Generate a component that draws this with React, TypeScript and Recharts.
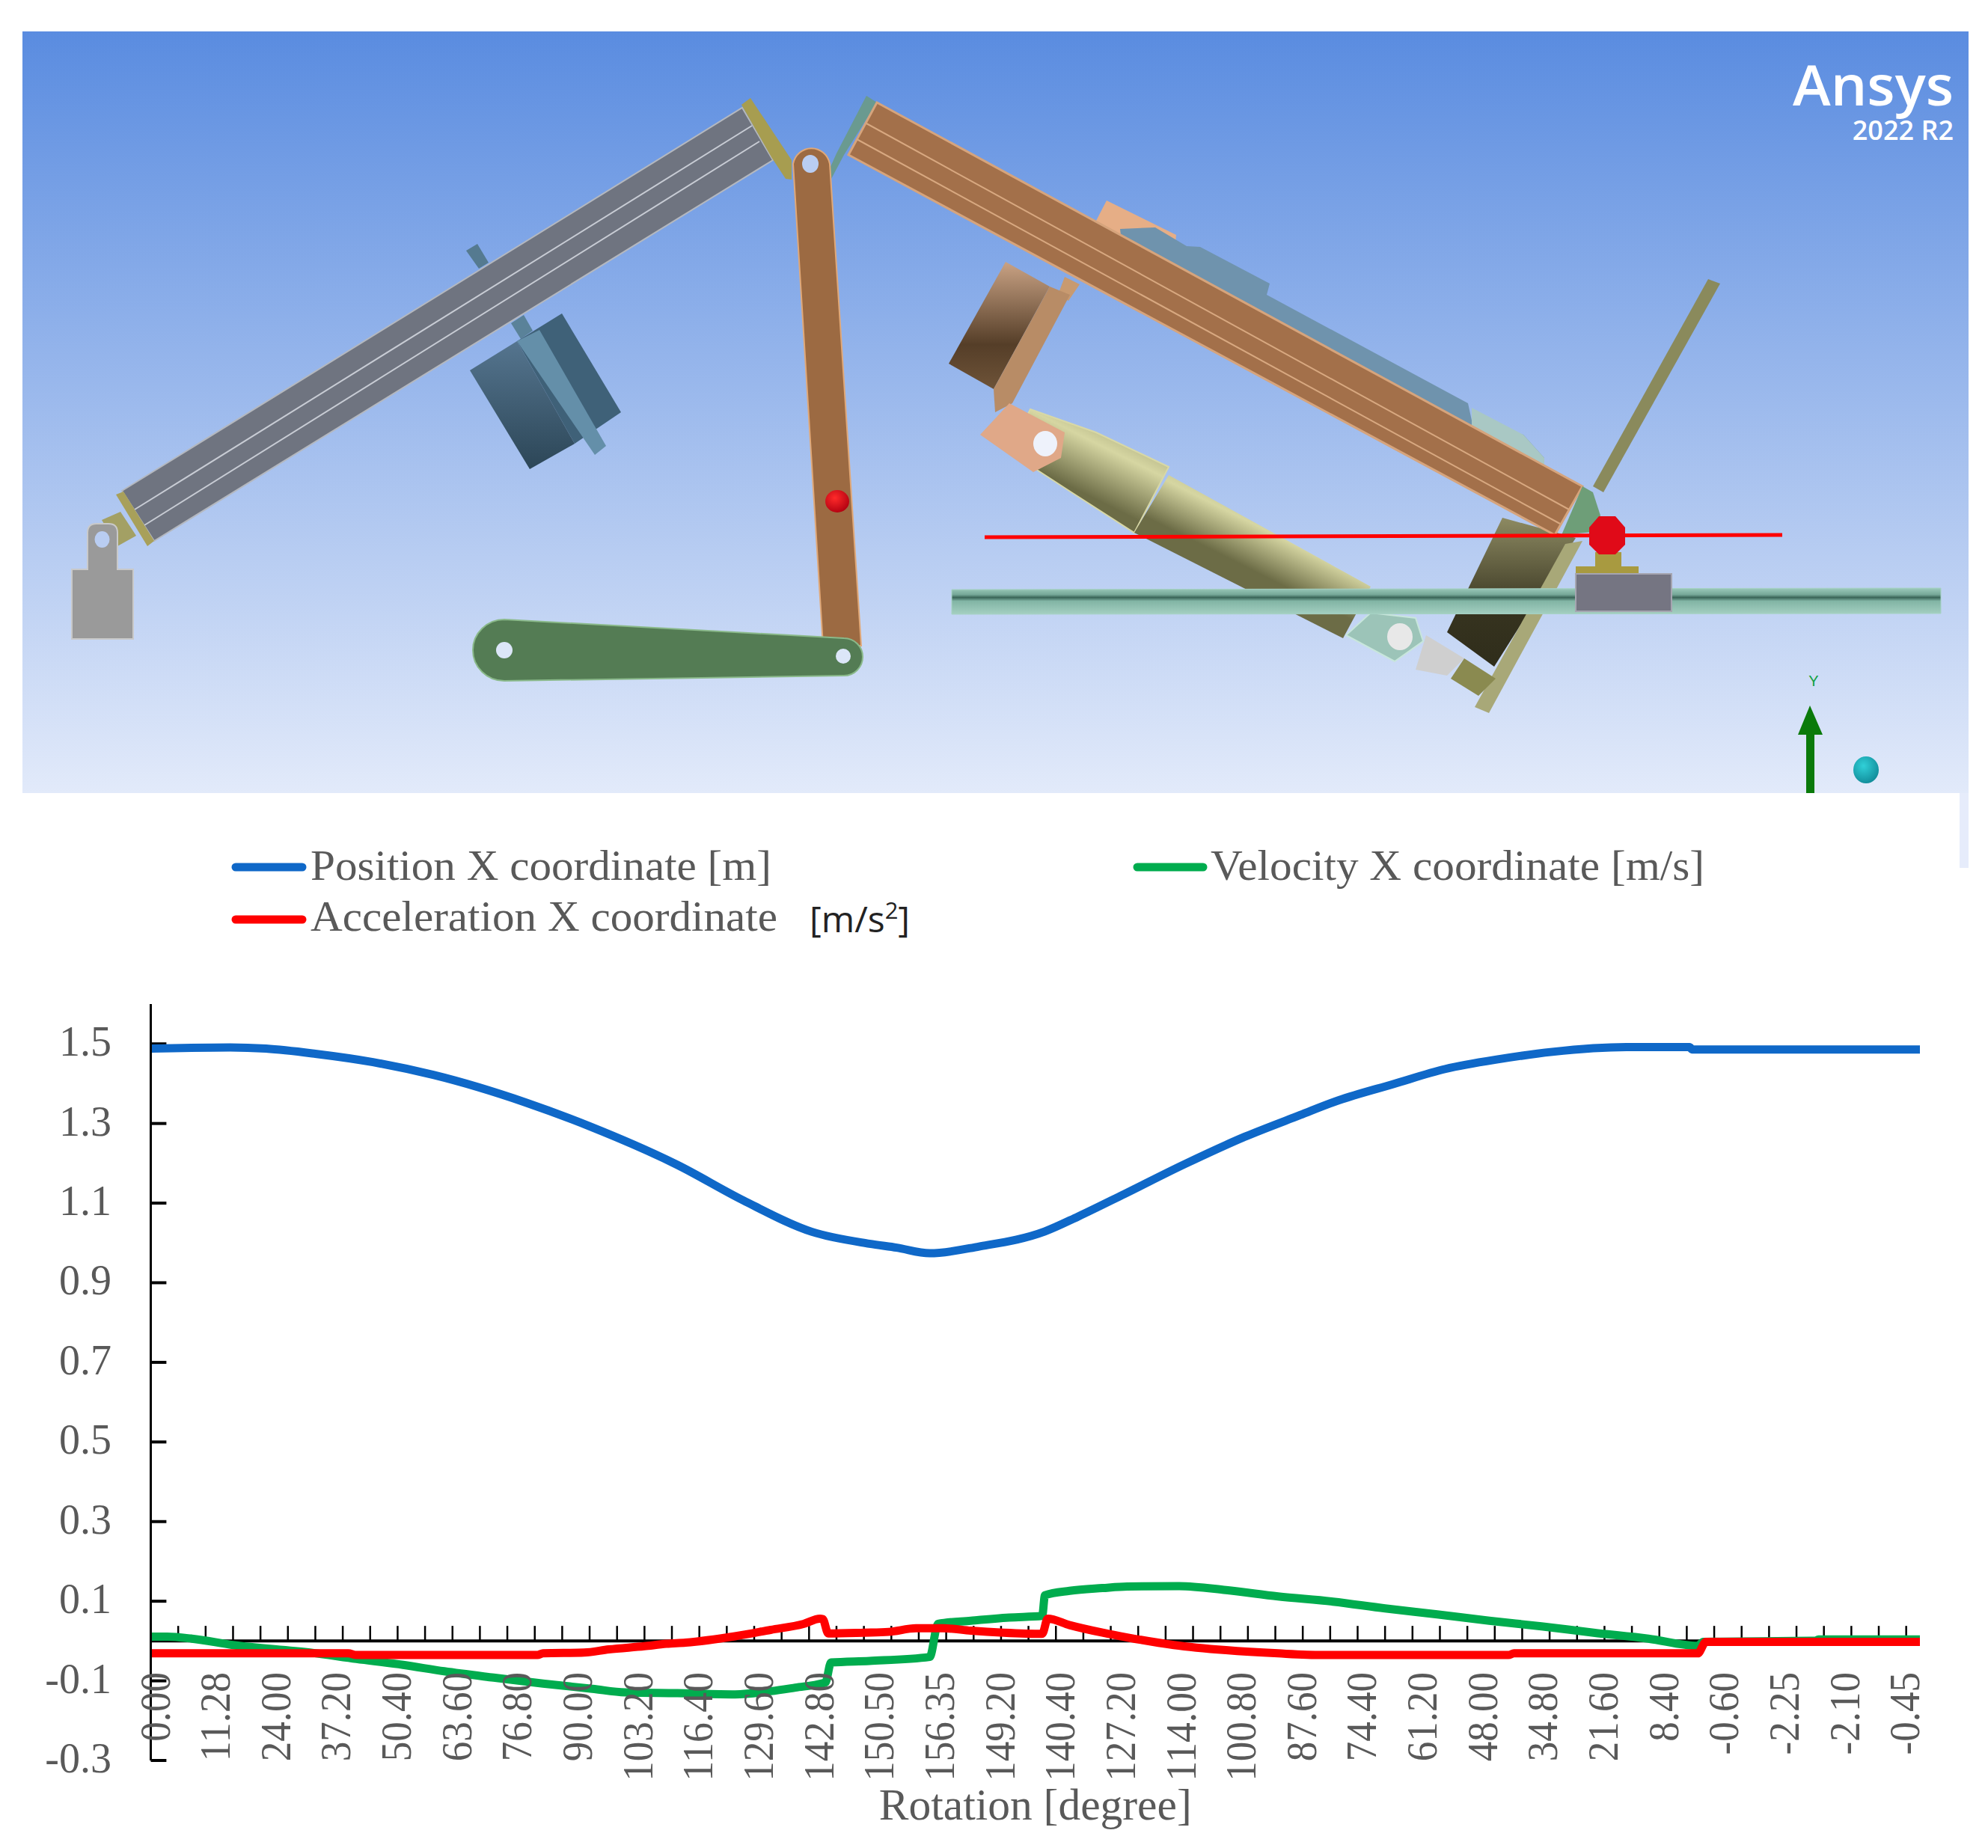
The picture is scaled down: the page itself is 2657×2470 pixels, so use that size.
import React from 'react';
import { LineChart, Line, XAxis, YAxis, ReferenceLine, Legend } from 'recharts';

// ---- data ----
const rotationLabels = ['0.00','11.28','24.00','37.20','50.40','63.60','76.80','90.00','103.20','116.40','129.60','142.80','150.50','156.35','149.20','140.40','127.20','114.00','100.80','87.60','74.40','61.20','48.00','34.80','21.60','8.40','-0.60','-2.25','-2.10','-0.45'];
const yTicks = [-0.3,-0.1,0.1,0.3,0.5,0.7,0.9,1.1,1.3,1.5];

const positionSamples = [0,29,42,60,81,103,137,160,192,216,241,262,272,284,302,326,338,355,377,399,419,433,453,472,492,511,538,561,562,645];
const positionValues = [1.488,1.491,1.488,1.475,1.454,1.422,1.352,1.293,1.196,1.107,1.028,0.998,0.988,0.974,0.991,1.029,1.066,1.123,1.198,1.267,1.321,1.358,1.399,1.437,1.462,1.48,1.492,1.492,1.486,1.486];

const velocitySamples = [0,6,15,30,58,75,92,107,125,143,161,173,192,213,226,235,245,246,248,262,284,287,299,313,325,326,335,347,356,375,392,411,431,450,469,488,507,526,546,564,566,607,608,645];
const velocityValues = [0.011,0.011,0.006,-0.01,-0.029,-0.045,-0.06,-0.076,-0.092,-0.107,-0.12,-0.129,-0.131,-0.134,-0.126,-0.117,-0.106,-0.104,-0.054,-0.05,-0.04,0.043,0.051,0.059,0.063,0.115,0.126,0.133,0.137,0.138,0.128,0.112,0.099,0.082,0.067,0.051,0.037,0.021,0.006,-0.012,-0.002,0.001,0.004,0.004];

const accelerationSamples = [0,72,75,141,143,158,167,180,188,195,213,226,238,244,245,247,260,269,279,289,299,311,325,327,335,347,356,373,392,411,427,495,497,564,567,645];
const accelerationValues = [-0.031,-0.031,-0.035,-0.035,-0.031,-0.029,-0.021,-0.013,-0.007,-0.004,0.012,0.028,0.043,0.056,0.055,0.019,0.021,0.023,0.032,0.032,0.026,0.021,0.018,0.056,0.04,0.021,0.009,-0.01,-0.023,-0.031,-0.035,-0.035,-0.031,-0.031,-0.002,-0.002];

const axisTickSamples = [10,20,30,40,50,60,70,80,90,100,110,120,130,140,150,160,170,180,190,200,210,220,230,240,250,260,270,280,290,300,310,320,330,340,350,360,370,380,390,400,410,420,430,440,450,460,470,480,490,500,510,520,530,540,550,560,570,580,590,600,610,620,630,640];
const labelStep = 22;
const labelSamples = rotationLabels.map((_, i) => i * labelStep);

const positionData = positionSamples.map((s, i) => ({ s, v: positionValues[i] }));
const velocityData = velocitySamples.map((s, i) => ({ s, v: velocityValues[i] }));
const accelerationData = accelerationSamples.map((s, i) => ({ s, v: accelerationValues[i] }));

const SERIF = '"Liberation Serif", serif';
const GREY = '#595959';

function naturalWidth(label: string, size: number) {
  let w = 0;
  for (const c of label) w += c === '.' ? 0.25 : c === '-' ? 0.333 : 0.5;
  return w * size;
}

function XTick(props: any) {
  const { x, payload } = props;
  const label = rotationLabels[Math.round(payload.value / labelStep)];
  const px = x + 25;
  const py = 2235;
  return (
    <text x={px} y={py} transform={`rotate(-90 ${px} ${py})`} textAnchor="end" fontFamily={SERIF} fontSize={57} fill={GREY} textLength={naturalWidth(label, 53)} lengthAdjust="spacingAndGlyphs">
      {label}
    </text>
  );
}

function YTick(props: any) {
  const { y, payload } = props;
  return (
    <text x={149} y={y + 16} textAnchor="end" fontFamily={SERIF} fontSize={56} fill={GREY}>
      {payload.value.toFixed(1)}
    </text>
  );
}

function LegendBox(props: any) {
  const items = props.payload || [];
  const lay: Record<string, any> = {
    'Position X coordinate [m]': { x1: 315, x2: 404, y: 1159, tx: 415, by: 1176, tl: 616 },
    'Velocity X coordinate [m/s]': { x1: 1520, x2: 1608, y: 1159, tx: 1618, by: 1176, tl: 660 },
    'Acceleration X coordinate': { x1: 315, x2: 404, y: 1229, tx: 415, by: 1244, tl: 624 },
  };
  return (
    <svg width={2657} height={1300} style={{ position: 'absolute', left: 0, top: 0, overflow: 'visible' }}>
      {items.map((it: any) => {
        const l = lay[it.value];
        return (
          <g key={it.value}>
            <line x1={l.x1} x2={l.x2} y1={l.y} y2={l.y} stroke={it.color} strokeWidth={11} strokeLinecap="round" />
            <text x={l.tx} y={l.by} fontFamily={SERIF} fontSize={58} fill={GREY} textLength={l.tl} lengthAdjust="spacingAndGlyphs">{it.value}</text>
          </g>
        );
      })}
      <text x={1082} y={1246} fontFamily='"Open Sans", sans-serif' fontSize={48} fill="#222">
        [m/s<tspan dy={-18} fontSize={31}>2</tspan><tspan dy={18}>]</tspan>
      </text>
    </svg>
  );
}

function Poly({ p, fill, stroke, sw }: { p: string; fill: string; stroke?: string; sw?: number }) {
  return <polygon points={p} fill={fill} stroke={stroke} strokeWidth={sw} />;
}

function MechanismView() {
  const bg = '#b9cdf2';
  return (
    <svg width={2657} height={1170} style={{ position: 'absolute', left: 0, top: 0 }}>
      <defs>
        <linearGradient id="bg" x1="0" y1="0" x2="0" y2="1">
          <stop offset="0" stopColor="#5a8ce0" />
          <stop offset="1" stopColor="#e2eafa" />
        </linearGradient>
        <linearGradient id="motorA" x1="0" y1="0" x2="0" y2="1">
          <stop offset="0" stopColor="#55758f" />
          <stop offset="1" stopColor="#2c4657" />
        </linearGradient>
        <linearGradient id="motorB" x1="0" y1="0" x2="0" y2="1">
          <stop offset="0" stopColor="#c9a284" />
          <stop offset="0.65" stopColor="#553e28" />
          <stop offset="1" stopColor="#6e5338" />
        </linearGradient>
        <linearGradient id="cyl" gradientUnits="userSpaceOnUse" x1="1590" y1="580" x2="1530" y2="700">
          <stop offset="0" stopColor="#8a8a60" />
          <stop offset="0.5" stopColor="#d6d6a2" />
          <stop offset="1" stopColor="#6c6c46" />
        </linearGradient>
        <linearGradient id="cyl2" gradientUnits="userSpaceOnUse" x1="1720" y1="660" x2="1670" y2="760">
          <stop offset="0" stopColor="#a8a87a" />
          <stop offset="0.5" stopColor="#d6d6a2" />
          <stop offset="1" stopColor="#6c6c46" />
        </linearGradient>
        <linearGradient id="plate" x1="0" y1="0" x2="0" y2="1">
          <stop offset="0" stopColor="#8d8a62" />
          <stop offset="0.65" stopColor="#36331f" />
          <stop offset="1" stopColor="#2f2d1b" />
        </linearGradient>
        <linearGradient id="rail" x1="0" y1="0" x2="0" y2="1">
          <stop offset="0" stopColor="#9ccabb" />
          <stop offset="0.25" stopColor="#76a898" />
          <stop offset="0.36" stopColor="#3a6558" />
          <stop offset="0.5" stopColor="#82b5a5" />
          <stop offset="1" stopColor="#a4cfc1" />
        </linearGradient>
        <radialGradient id="ball" cx="0.4" cy="0.35" r="0.7">
          <stop offset="0" stopColor="#ff2a2a" />
          <stop offset="1" stopColor="#b00010" />
        </radialGradient>
        <radialGradient id="cyan" cx="0.4" cy="0.35" r="0.7">
          <stop offset="0" stopColor="#30d0d8" />
          <stop offset="1" stopColor="#108a98" />
        </radialGradient>
      </defs>
      <rect x={30} y={42} width={2601} height={1018} fill="url(#bg)" />
      <rect x={2619} y={1060} width={12} height={100} fill="#e6ecfb" />

      {/* left beam */}
      <Poly p="136,695 161,684 182,716 157,730" fill="#a3a064" />
      <Poly p="623,335 638,326 653,351 640,359" fill="#557a90" />
      <Poly p="683,432 700,421 712,442 696,453" fill="#5a8299" />
      <Poly p="691,456 751,419 830,551 768,593" fill="#3f6178" />
      <Poly p="691,456 721,441 810,596 795,608" fill="#648fa9" />
      <Poly p="628,495 691,456 768,593 708,627" fill="url(#motorA)" />
      <Poly p="163,656 992,144 1033,214 206,723" fill="#6f7480" stroke="#b4b8bf" sw={2} />
      <line x1={180} y1={681} x2={1005} y2={168} stroke="#c8ccd4" strokeWidth={2} />
      <line x1={193} y1={702} x2={1015} y2={189} stroke="#c8ccd4" strokeWidth={2} />
      <Poly p="155,661 165,657 206,723 197,730" fill="#a8a05a" />
      <Poly p="991,140 1003,131 1058,214 1058,240 1050,239 1031,210" fill="#a79d50" />

      {/* grey mount */}
      <path d="M96 761 H117 V712 Q117 700 129 700 H145 Q157 700 157 712 V761 H178 V854 H96 Z" fill="#9a9a9a" stroke="#c9c9c9" strokeWidth={2} />
      <ellipse cx={136.5} cy={721} rx={10} ry={11} fill={bg} />

      {/* right beam parts behind */}
      <Poly p="1158,128 1172,137 1128,207 1111,239 1105,234 1118,205" fill="#6a9a90" />
      <Poly p="1479,268 1572,314 1570,335 1500,335 1465,295" fill="#e6ae86" />
      <Poly p="1497,306 1544,304 1586,329 1604,330 1697,379 1693,394 1962,539 1967,562 2036,581 2064,612 2064,627 1500,330" fill="#6f93ad" />
      <Poly p="1967,545 2036,581 2064,612 2064,627 1967,570" fill="#a9c8c4" />
      <Poly p="1423,370 1443,380 1428,402 1414,394" fill="#c89a70" />

      {/* long thin plate */}
      <Poly p="2283,373 2299,379 2143,658 2129,650" fill="#8a8a5c" />

      {/* dark plate behind cylinder */}
      <Poly p="2008,692 2106,719 1997,891 1934,845" fill="url(#plate)" />
      <Poly p="2092,727 2115,723 1990,953 1971,945" fill="#a8a878" />

      {/* rod */}
      <Poly p="1906,849 1957,880 1934,903 1892,895" fill="#cfcfcf" />
      <Poly p="1957,880 1999,907 1976,930 1939,907" fill="#8a8a50" />

      {/* cylinder */}
      <Poly p="1377,547 1465,578 1562,624 1516,712 1432,658 1349,604" fill="url(#cyl)" stroke="#d8d8a6" sw={2} />
      <Poly p="1562,635 1832,784 1795,853 1516,712" fill="url(#cyl2)" />
      <Poly p="1832,819 1892,826 1902,857 1864,884 1799,849" fill="#9cc4b8" stroke="#c8e6dc" sw={2} />
      <ellipse cx={1871} cy={851} rx={17} ry={18} fill="#e8e8e8" />

      {/* actuator box */}
      <Poly p="1344,350 1403,383 1328,520 1268,486" fill="url(#motorB)" />
      <Poly p="1403,383 1430,394 1353,539 1330,551 1328,520" fill="#b88c66" />

      {/* clevis */}
      <Poly p="1349,539 1423,578 1418,612 1381,631 1310,581" fill="#e0a888" />
      <ellipse cx={1397} cy={593} rx={16} ry={17} fill="#eef2fb" />

      {/* orange beam */}
      <Poly p="1172,137 2115,650 2078,715 1134,207" fill="#a3704a" stroke="#d6a47c" sw={3} />
      <line x1={1158} y1={165} x2={2097} y2={681} stroke="#d8a880" strokeWidth={2} />
      <line x1={1145} y1={186} x2={2085} y2={700} stroke="#d8a880" strokeWidth={2} />
      <Poly p="2115,650 2129,658 2139,689 2129,711 2087,715" fill="#6e9e78" />

      {/* vertical link */}
      <path d="M1060 219 A25 26 0 0 1 1109 219 L1151 863 H1100 Z" fill="#9c6a42" stroke="#e0a878" strokeWidth={2} />
      <ellipse cx={1083} cy={219} rx={11} ry={12} fill={bg} />
      <ellipse cx={1119} cy={670} rx={16} ry={15} fill="url(#ball)" />

      {/* green arm */}
      <path d="M674 828 L1128 853 A25 25 0 0 1 1128 903 L674 910 A42 41 0 0 1 674 828 Z" fill="#547c54" stroke="#8ab98a" strokeWidth={2} />
      <ellipse cx={674} cy={869} rx={11} ry={11} fill="#dce6f8" />
      <ellipse cx={1127} cy={877} rx={10} ry={10} fill="#dce6f8" />

      {/* rail */}
      <Poly p="1272,788 2594,786 2594,820 1272,821" fill="url(#rail)" stroke="#a6d2c4" sw={1} />

      {/* slider */}
      <Poly p="2132,738 2167,738 2167,757 2190,757 2190,767 2106,767 2106,757 2132,757" fill="#a89a40" />
      <rect x={2106} y={767} width={128} height={50} fill="#757582" stroke="#a5a5b0" strokeWidth={2} />

      {/* path and marker */}
      <line x1={1316} y1={718} x2={2382} y2={715} stroke="#ff0000" strokeWidth={5} />
      <Poly p="2137,690 2159,690 2172,705 2172,728 2159,741 2137,741 2124,728 2124,705" fill="#e00a18" />

      {/* triad */}
      <text x={2424} y={917} textAnchor="middle" fontFamily='"Liberation Sans", sans-serif' fontSize={20} fill="#10a040">Y</text>
      <rect x={2414} y={975} width={11} height={85} fill="#0a7a0a" />
      <Poly p="2419,943 2403,982 2436,982" fill="#0a7a0a" />
      <ellipse cx={2494} cy={1029} rx={17} ry={18} fill="url(#cyan)" />

      {/* logo */}
      <text x={2396} y={141} fontFamily='"Open Sans", sans-serif' fontWeight={600} fontSize={74} fill="#fff" textLength={215} lengthAdjust="spacingAndGlyphs">Ansys</text>
      <text x={2611} y={187} textAnchor="end" fontFamily='"Open Sans", sans-serif' fontWeight={600} fontSize={36} fill="#fff">2022 R2</text>
    </svg>
  );
}

export default function App() {
  return (
    <div style={{ position: 'absolute', left: 0, top: 0, width: 2657, height: 2470, background: '#fff', overflow: 'hidden' }}>
      <MechanismView />
      <div style={{ position: 'absolute', left: 0, top: 0 }}>
        <LineChart width={2657} height={2470} margin={{ top: 1342, right: 91, left: 101.5, bottom: 0 }}>
          <XAxis
            dataKey="s"
            type="number"
            domain={[0, 645]}
            ticks={labelSamples}
            interval={0}
            axisLine={false}
            tickLine={false}
            height={117}
            tick={<XTick />}
            label={{ value: 'Rotation [degree]', position: 'insideBottom', offset: 38, fontFamily: SERIF, fontSize: 59.5, fill: GREY }}
          />
          <YAxis
            type="number"
            domain={[-0.3, 1.6]}
            ticks={yTicks}
            interval={0}
            width={100}
            axisLine={{ stroke: '#000', strokeWidth: 3 }}
            tickLine={false}
            tick={<YTick />}
          />
          <ReferenceLine y={0} stroke="#000" strokeWidth={4} />
          {axisTickSamples.map((s) => (
            <ReferenceLine key={s} segment={[{ x: s, y: 0 }, { x: s, y: 0.038 }]} stroke="#000" strokeWidth={2.5} />
          ))}
          {yTicks.map((v) => (
            <ReferenceLine key={`y${v}`} segment={[{ x: 0, y: v }, { x: 5.7, y: v }]} stroke="#000" strokeWidth={4} />
          ))}
          <Legend content={<LegendBox />} wrapperStyle={{ position: 'absolute', left: 0, top: 0, width: 0, height: 0 }} />
          <Line data={positionData} dataKey="v" name="Position X coordinate [m]" stroke="#0f68c8" strokeWidth={11} dot={false} isAnimationActive={false} type="monotone" />
          <Line data={velocityData} dataKey="v" name="Velocity X coordinate [m/s]" stroke="#00ac4e" strokeWidth={11} dot={false} isAnimationActive={false} type="monotone" />
          <Line data={accelerationData} dataKey="v" name="Acceleration X coordinate" stroke="#ff0000" strokeWidth={11} dot={false} isAnimationActive={false} type="monotone" />
        </LineChart>
      </div>
    </div>
  );
}
